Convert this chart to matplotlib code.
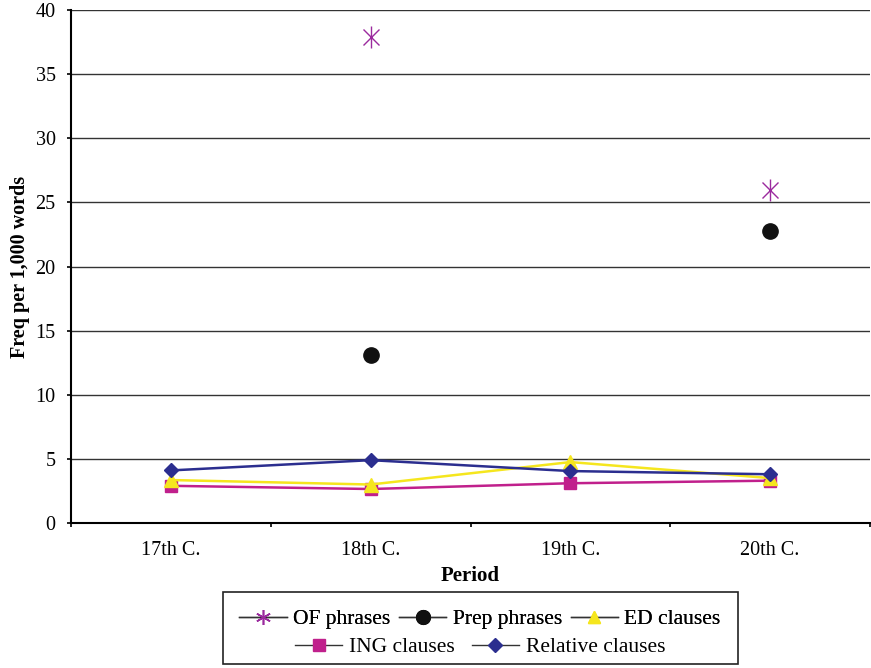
import matplotlib.pyplot as plt
import numpy as np
from matplotlib.lines import Line2D
from matplotlib.patches import Rectangle

plt.rcParams['font.family'] = ['Liberation Serif', 'DejaVu Serif']

periods = ['17th C.', '18th C.', '19th C.', '20th C.']
of_phrases = [np.nan, 37.9, np.nan, 26.0]
prep_phrases = [np.nan, 13.1, np.nan, 22.8]
ed_clauses = [3.35, 3.0, 4.75, 3.5]
ing_clauses = [2.9, 2.65, 3.1, 3.3]
relative_clauses = [4.1, 4.9, 4.05, 3.8]

x = np.arange(len(periods))

fig = plt.figure(figsize=(8.71, 6.68), dpi=100)
ax = fig.add_axes([71/871, 1-523/668, 799/871, 513/668])

series = [
    ('OF phrases', of_phrases, '#9b2a9e', 'x', 12, 'none'),
    ('Prep phrases', prep_phrases, '#111111', 'o', 11, 'none'),
    ('ED clauses', ed_clauses, '#f5e61e', '^', 10, '-'),
    ('ING clauses', ing_clauses, '#c0208c', 's', 9, '-'),
    ('Relative clauses', relative_clauses, '#2b2e8f', 'D', 7.5, '-'),
]

# draw ING first so relative and ED sit on top like the original
order = [3, 2, 4, 0, 1]
for i in order:
    name, vals, col, mk, ms, ls = series[i]
    if mk == 'x':
        ax.plot(x, vals, ls='none', marker='x', ms=ms, mec=col, mew=1.0, zorder=5)
        ax.plot(x, vals, ls='none', marker='|', ms=ms*1.3, mec=col, mew=1.0, zorder=5)
    else:
        ax.plot(x, vals, ls=ls, color=col, lw=1.8, marker=mk, ms=ms,
                mfc=col, mec=col, zorder=4)

ax.set_xlim(-0.5, 3.5)
ax.set_ylim(0, 40)
ax.set_yticks(range(0, 41, 5))
ax.yaxis.grid(True, color='#333333', lw=1.0)
ax.set_axisbelow(True)
ax.set_xticks(x)
ax.set_xticklabels(periods)
ax.set_xticks(np.arange(-0.5, 3.6, 1), minor=True)
ax.tick_params(axis='x', which='major', length=0, labelsize=14.5, pad=13)
ax.tick_params(axis='x', which='minor', length=3, direction='out', width=1.2)
ax.tick_params(axis='y', labelsize=14.5, length=3, width=1.2, direction='out', pad=8)
for s in ['top', 'right']:
    ax.spines[s].set_visible(False)
for s in ['left', 'bottom']:
    ax.spines[s].set_linewidth(1.5)
ax.set_xlabel('Period', fontsize=15, fontweight='bold', labelpad=4)
ax.set_ylabel('Freq per 1,000 words', fontsize=14.5, fontweight='bold', labelpad=4)

def handle(name, col, mk, ms):
    if mk == 'x':
        return Line2D([], [], color='#333333', lw=1, marker=(6, 2, 0), ms=ms, mec=col, mew=1.0)
    return Line2D([], [], color='#333333', lw=1, marker=mk, ms=ms, mfc=col, mec=col)

hs = [handle(s[0], s[2], s[3], s[4] * 0.9) for s in series]
names = [s[0] for s in series]

leg1 = fig.legend(hs[:3], names[:3], loc='center', bbox_to_anchor=(480/871, 1-619/668),
                  ncol=3, frameon=False, fontsize=15.5, handlelength=2.2,
                  handletextpad=0.3, columnspacing=0.4, borderpad=0)
leg2 = fig.legend(hs[3:], names[3:], loc='center', bbox_to_anchor=(480/871, 1-647/668),
                  ncol=2, frameon=False, fontsize=15.5, handlelength=2.2,
                  handletextpad=0.3, columnspacing=0.8, borderpad=0)
fig.add_artist(leg1)
fig.patches.append(Rectangle((223/871, 1-664/668), 515/871, 72/668,
                             transform=fig.transFigure, fill=False,
                             edgecolor='#222222', lw=1.2))

fig.savefig('out.png', dpi=100)
